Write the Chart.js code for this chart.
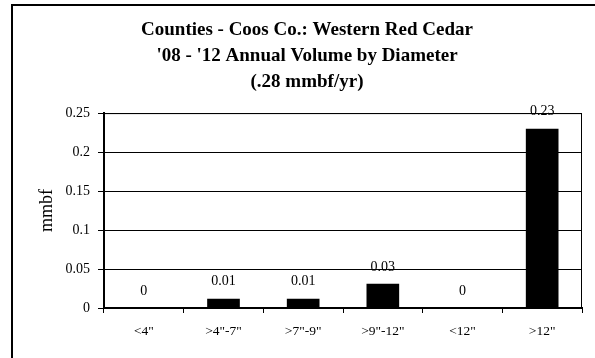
<!DOCTYPE html>
<html>
<head>
<meta charset="utf-8">
<script src="https://cdn.jsdelivr.net/npm/chart.js@4/dist/chart.umd.min.js"></script>
<style>
	html, body { margin: 0; padding: 0; background: #fff; overflow: hidden; width: 595px; height: 358px; }
	#frame { position: absolute; left: 11px; top: 4px; width: 700px; height: 500px; border: 2px solid #000; }
	#chart { position: absolute; left: 0; top: 0; }
</style>
</head>
<body>
<div id="frame"></div>
<canvas id="chart" width="595" height="358"></canvas>
<script>
//chart data---------------------
var titleLines = ["Counties - Coos Co.: Western Red Cedar", "'08 - '12 Annual Volume by Diameter", "(.28 mmbf/yr)"];
var categories = ['<4"', '>4"-7"', '>7"-9"', '>9"-12"', '<12"', '>12"'];
var volumes = [0, 0.012, 0.012, 0.031, 0, 0.23];
var yTitle = 'mmbf';
var yMin = 0;
var yMax = 0.25;
var yStep = 0.05;

var serif = '"Liberation Serif", "Times New Roman", serif';

//value labels above each bar
var valueLabels = {
	id: 'valueLabels',
	afterDatasetsDraw: function (chart) {
		var ctx = chart.ctx;
		var meta = chart.getDatasetMeta(0);
		ctx.save();
		ctx.font = '14px ' + serif;
		ctx.fillStyle = '#000';
		ctx.textAlign = 'center';
		ctx.textBaseline = 'middle';
		for (var i = 0; i < meta.data.length; i++) {
			var v = chart.data.datasets[0].data[i];
			var txt = v === 0 ? '0' : v.toFixed(2);
			var bar = meta.data[i];
			ctx.fillText(txt, bar.x, bar.y - 17);
		}
		ctx.restore();
	}
};

//thin frame round the plot area
var plotFrame = {
	id: 'plotFrame',
	beforeDatasetsDraw: function (chart) {
		var a = chart.chartArea;
		var ctx = chart.ctx;
		ctx.save();
		ctx.strokeStyle = '#000';
		ctx.lineWidth = 1;
		ctx.strokeRect(a.left + 0.5, a.top + 0.5, a.right - a.left - 1, a.bottom - a.top);
		ctx.restore();
	}
};

window.onload = function () {
	Chart.defaults.font.family = serif;
	Chart.defaults.color = '#000';

	new Chart(document.getElementById('chart'), {
		type: 'bar',
		data: {
			labels: categories,
			datasets: [{
				data: volumes,
				backgroundColor: '#000',
				borderColor: '#000',
				borderWidth: 0,
				categoryPercentage: 1,
				barPercentage: 0.41
			}]
		},
		options: {
			responsive: false,
			animation: false,
			devicePixelRatio: 1,
			layout: { padding: { left: 32, right: 13, top: 0, bottom: 0 } },
			plugins: {
				legend: { display: false },
				tooltip: { enabled: false },
				title: {
					display: true,
					text: titleLines,
					color: '#000',
					font: { size: 19, weight: 'bold', family: serif, lineHeight: 1.37 },
					padding: { top: 17, bottom: 18 }
				}
			},
			scales: {
				x: {
					grid: {
						offset: true,
						drawOnChartArea: false,
						color: '#000',
						tickColor: '#000',
						tickLength: 5
					},
					border: { color: '#000', width: 2 },
					ticks: { font: { size: 13.5, family: serif }, color: '#000', padding: 10, maxRotation: 0 },
					afterFit: function (scale) { scale.height = 50; }
				},
				y: {
					min: yMin,
					max: yMax,
					ticks: {
						stepSize: yStep,
						font: { size: 14, family: serif },
						color: '#000',
						padding: 8,
						callback: function (value) { return String(+value.toFixed(2)); }
					},
					grid: { color: '#000', lineWidth: 1, tickLength: 6, tickColor: '#000' },
					border: { color: '#000', width: 2 },
					title: {
						display: true,
						text: yTitle,
						color: '#000',
						font: { size: 18, family: serif },
						padding: { top: 4, bottom: 0 }
					},
					afterFit: function (scale) { scale.width = 72; }
				}
			}
		},
		plugins: [plotFrame, valueLabels]
	});
};
</script>
</body>
</html>
